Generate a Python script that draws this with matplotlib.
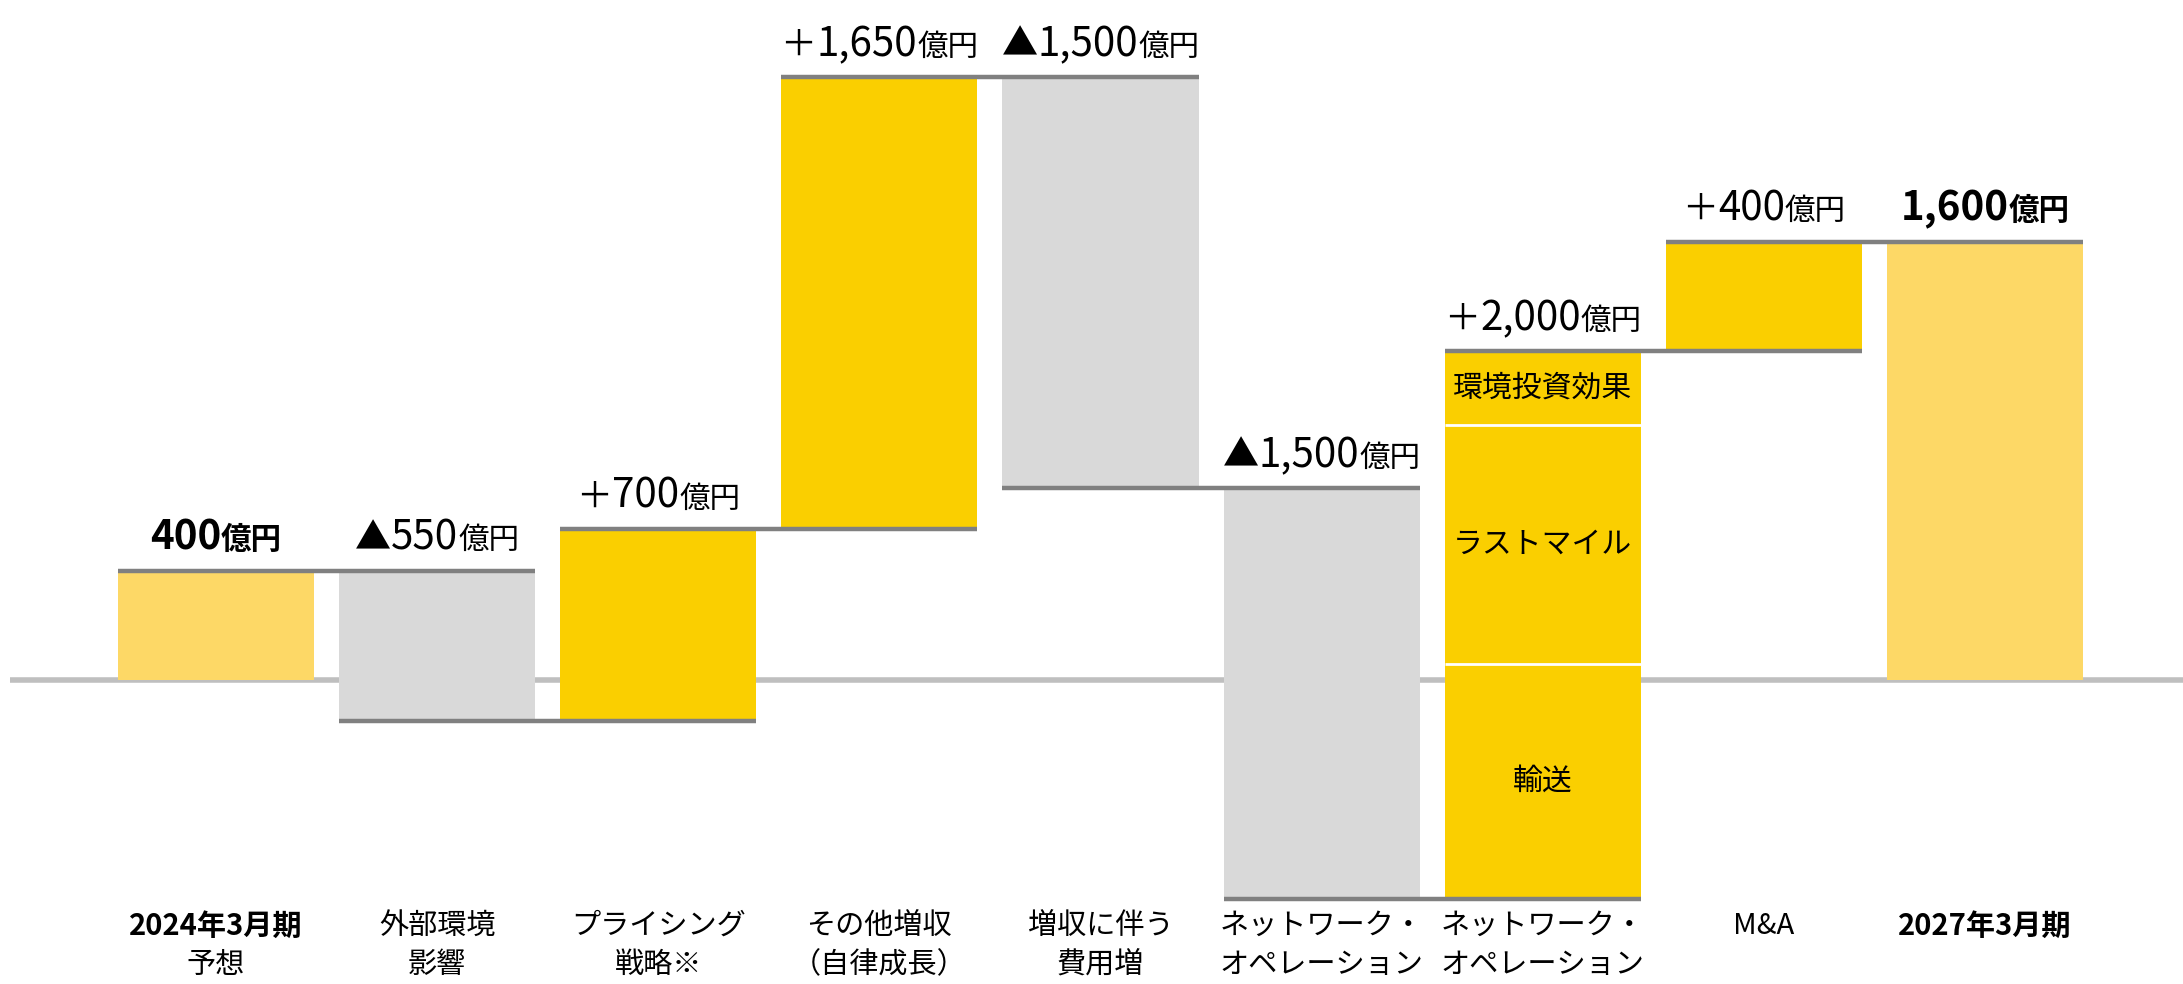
import matplotlib.pyplot as plt
import matplotlib.transforms as mtransforms
from matplotlib.offsetbox import TextArea, HPacker, AnnotationBbox

plt.rcParams['font.family'] = ['Noto Sans CJK JP', 'DejaVu Sans']

# categories (two lines each)
cat_line1 = ["2024年3月期", "外部環境", "プライシング", "その他増収", "増収に伴う",
             "ネットワーク・", "ネットワーク・", "M&A", "2027年3月期"]
cat_line2 = ["予想", "影響", "戦略※", "（自律成長）", "費用増",
             "オペレーション", "オペレーション", "", ""]
cat_bold = [True, False, False, False, False, False, False, False, True]

# values (億円)
start_val = 400
deltas = [-550, 700, 1650, -1500, -1500, 2000, 400]
end_val = 1600

# breakdown of the +2,000 bar
seg_names = ["輸送", "ラストマイル", "環境投資効果"]
seg_vals = [860, 870, 270]

c_total = "#FDD866"
c_up = "#FACF00"
c_down = "#D9D9D9"
c_line = "#808080"
c_base = "#BFBFBF"

fig = plt.figure(figsize=(21.83, 9.84), dpi=100)
ax = fig.add_axes([0, 0, 1, 1])
ax.set_xlim(-0.977, 8.896)
ax.set_ylim(-1109, 2482)
ax.axis("off")

w = 0.887
n = len(cat_line1)

# baseline
ax.hlines(0, -0.93, 8.896, color=c_base, lw=4, zorder=0)

bottoms, heights, colors, signs, amounts = [], [], [], [], []
bottoms.append(0); heights.append(start_val); colors.append(c_total)
signs.append(""); amounts.append(start_val)
levels = [start_val]
lev = start_val
for d in deltas:
    bottoms.append(min(lev, lev + d))
    heights.append(abs(d))
    colors.append(c_up if d > 0 else c_down)
    signs.append("＋" if d > 0 else "▲")
    amounts.append(abs(d))
    lev += d
    levels.append(lev)
bottoms.append(0); heights.append(end_val); colors.append(c_total)
signs.append(""); amounts.append(end_val)

for i in range(n):
    if i == 6:
        b = bottoms[i]
        for k, (nm, v) in enumerate(zip(seg_names, seg_vals)):
            ax.bar(i, v, bottom=b, width=w, color=colors[i], zorder=1)
            ax.text(i, b + v / 2, nm, ha="center", va="center", fontsize=21.5, zorder=3)
            if k > 0:
                ax.hlines(b, i - w / 2, i + w / 2, color="white", lw=2, zorder=2)
            b += v
    else:
        ax.bar(i, heights[i], bottom=bottoms[i], width=w, color=colors[i], zorder=1)

# connectors
for k, lv in enumerate(levels):
    ax.hlines(lv, k - w / 2, k + 1 + w / 2, color=c_line, lw=3.2, zorder=4)

# value labels
for i in range(n):
    top = bottoms[i] + heights[i]
    bold = signs[i] == ""
    fw = "bold" if bold else "normal"
    parts = []
    if signs[i]:
        parts.append(TextArea(signs[i], textprops=dict(fontsize=26)))
    parts.append(TextArea(f"{amounts[i]:,}", textprops=dict(fontsize=29, fontweight=fw)))
    parts.append(TextArea("億円", textprops=dict(fontsize=22, fontweight=fw)))
    box = HPacker(children=parts, align="baseline", pad=0, sep=0)
    ab = AnnotationBbox(box, (i, top), xybox=(0, 9), xycoords="data",
                        boxcoords="offset points", box_alignment=(0.5, 0),
                        frameon=False, pad=0)
    ax.add_artist(ab)

# category labels
trans = mtransforms.blended_transform_factory(ax.transData, ax.transAxes)
for i in range(n):
    ax.text(i, 1 - 926 / 984, cat_line1[i], transform=trans, ha="center", va="center",
            fontsize=21, fontweight="bold" if cat_bold[i] else "normal")
    if cat_line2[i]:
        ax.text(i, 1 - 965 / 984, cat_line2[i], transform=trans, ha="center", va="center",
                fontsize=21)

plt.savefig("out.png", dpi=100)
